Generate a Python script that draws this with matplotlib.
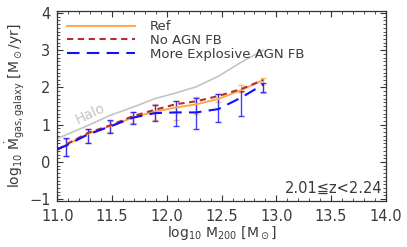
import numpy as np
import matplotlib
matplotlib.use("Agg")
import matplotlib.pyplot as plt
from matplotlib.ticker import MultipleLocator

# log10 M200 bin centres (error bar positions); lines start at the axis edge
mass = [11.08, 11.28, 11.48, 11.69, 11.89, 12.08, 12.27, 12.47, 12.68, 12.88]
mass_line = [11.0] + mass

# halo accretion rate
halo = [0.63, 0.73, 0.98, 1.25, 1.47, 1.70, 1.85, 2.02, 2.30, 2.68, 3.00]

# Ref
ref = [0.33, 0.46, 0.76, 0.96, 1.19, 1.35, 1.46, 1.55, 1.69, 1.93, 2.20]
ref_lo = [0.15, 0.52, 0.80, 1.04, 1.12, 1.12, 1.30, 1.62, 1.89, 1.86]
ref_hi = [0.62, 0.88, 1.10, 1.33, 1.55, 1.63, 1.75, 1.83, 2.06, 2.26]

# No AGN FB
noagn = [0.33, 0.47, 0.78, 0.98, 1.23, 1.40, 1.55, 1.63, 1.77, 1.96, 2.20]

# More Explosive AGN FB
expl = [0.34, 0.44, 0.74, 0.95, 1.19, 1.31, 1.33, 1.33, 1.42, 1.73, 2.08]
expl_lo = [0.17, 0.50, 0.79, 1.03, 1.11, 0.96, 0.88, 1.06, 1.24, 1.87]
expl_hi = [0.63, 0.88, 1.12, 1.35, 1.53, 1.63, 1.71, 1.82, 1.90, 2.13]

c_ref = "#ffa64d"
c_noagn = "#b03030"
c_expl = "#1010ff"
c_text = "#3a3a3a"

plt.rcParams["font.family"] = ["DejaVu Sans"]

fig = plt.figure(figsize=(4.07, 2.47), dpi=100)
ax = fig.add_axes([0.141, 0.186, 0.807, 0.769])

ax.plot(mass_line, halo, color="#c4c4c4", lw=1.2)
ax.text(11.30, 1.30, "Halo", color="#c4c4c4", fontsize=10, rotation=25,
        ha="center", va="center")

def bars(x, mid, lo, hi, color):
    mid = np.array(mid[1:])
    yerr = [mid - np.array(lo), np.array(hi) - mid]
    ax.errorbar(x, mid, yerr=yerr, fmt="none", ecolor=color, elinewidth=1.0,
                capsize=2, capthick=1.0, alpha=0.8)

bars(mass, ref, ref_lo, ref_hi, c_ref)
bars(mass, expl, expl_lo, expl_hi, c_expl)

ax.plot(mass_line, ref, color=c_ref, lw=1.4, label="Ref")
ax.plot(mass_line, noagn, color=c_noagn, lw=1.5, dashes=(3, 2.2), label="No AGN FB")
ax.plot(mass_line, expl, color=c_expl, lw=1.5, dashes=(6, 3.5), label="More Explosive AGN FB")

ax.set_xlim(11.0, 14.0)
ax.set_ylim(-1.05, 4.05)
ax.xaxis.set_major_locator(MultipleLocator(0.5))
ax.xaxis.set_minor_locator(MultipleLocator(0.1))
ax.yaxis.set_major_locator(MultipleLocator(1))
ax.yaxis.set_minor_locator(MultipleLocator(0.1))
ax.tick_params(which="both", direction="in", top=True, right=True,
               colors="#333333", labelcolor=c_text, labelsize=10.5)
ax.tick_params(which="major", length=4, width=0.8)
ax.tick_params(which="minor", length=2, width=0.6)
ax.tick_params(axis="x", which="major", pad=6)
ax.tick_params(axis="y", which="major", pad=5)
ax.set_xticklabels([f"{v:.1f}" for v in ax.get_xticks()])
for s in ax.spines.values():
    s.set_color("#333333")
    s.set_linewidth(0.9)

ax.set_xlabel(r"log$_{10}$ M$_{200}$ [M$_\odot$]", color=c_text, fontsize=10, labelpad=0)
ax.set_ylabel(r"log$_{10}$ $\dot{\rm M}_{\rm gas,galaxy}$ [M$_\odot$/yr]",
              color=c_text, fontsize=10, labelpad=2)

ax.text(0.99, 0.03, "2.01\u2266z<2.24", transform=ax.transAxes, ha="right",
        va="bottom", color=c_text, fontsize=10.5)

leg = ax.legend(loc="upper left", frameon=False, fontsize=9.5, handlelength=5.2,
                borderaxespad=0.3, labelspacing=0.05, handletextpad=1.1)
for t in leg.get_texts():
    t.set_color(c_text)

fig.savefig("out.png", dpi=100)
